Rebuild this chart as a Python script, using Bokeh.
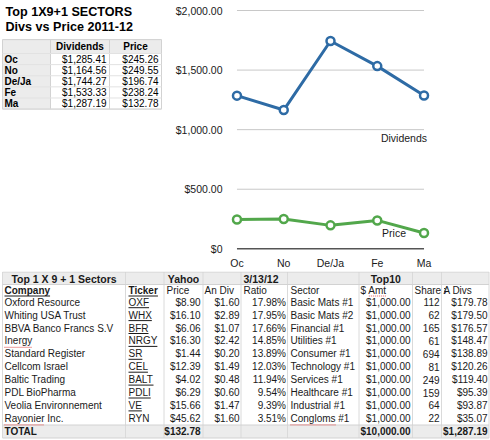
from bokeh.plotting import figure
from bokeh.layouts import column, row
from bokeh.models import Range1d, FixedTicker
from bokeh.core.properties import value
from bokeh.embed import file_html
from bokeh.resources import INLINE

# ---------------- data ----------------
months = ["Oc", "No", "De/Ja", "Fe", "Ma"]
dividends = [1285.41, 1164.56, 1744.27, 1533.33, 1287.19]
month_prices = [245.26, 249.55, 196.74, 238.24, 132.78]
y_ticks = [0, 500, 1000, 1500, 2000]
y_tick_labels = ["$0", "$500.00", "$1,000.00", "$1,500.00", "$2,000.00"]
series_names = ["Dividends", "Price"]

title_lines = ["Top 1X9+1 SECTORS", "Divs vs Price 2011-12"]

table_title = "Top 1 X 9 + 1 Sectors"
group_headers = ["Yahoo", "3/13/12", "Top10"]
col_headers = ["Company", "Ticker", "Price", "An Div", "Ratio", "Sector", "$ Amt", "Shares", "A Divs"]
companies = ["Oxford Resource", "Whiting USA Trust", "BBVA Banco Francs S.V", "Inergy",
             "Standard Register", "Cellcom Israel", "Baltic Trading", "PDL BioPharma",
             "Veolia Environnement", "Rayonier Inc."]
tickers = ["OXF", "WHX", "BFR", "NRGY", "SR", "CEL", "BALT", "PDLI", "VE", "RYN"]
ticker_linked = [True, True, True, True, True, True, True, True, True, False]
stock_prices = [8.90, 16.10, 6.06, 16.30, 1.44, 12.39, 4.02, 6.29, 15.66, 45.62]
annual_divs = [1.60, 2.89, 1.07, 2.42, 0.20, 1.49, 0.48, 0.60, 1.47, 1.60]
ratios = [17.98, 17.95, 17.66, 14.85, 13.89, 12.03, 11.94, 9.54, 9.39, 3.51]
sectors = ["Basic Mats #1", "Basic Mats #2", "Financial #1", "Utilities #1", "Consumer #1",
           "Technology #1", "Services #1", "Healthcare #1", "Industrial #1", "Congloms #1"]
amounts = [1000.00, 1000.00, 1000.00, 1000.00, 1000.00, 1000.00, 1000.00, 1000.00, 1000.00, 1000.00]
shares = [112, 62, 165, 61, 694, 81, 249, 159, 64, 22]
amount_divs = [179.78, 179.50, 176.57, 148.47, 138.89, 120.26, 119.40, 95.39, 93.87, 35.07]
total_label = "TOTAL"
total_price = 132.78
total_amount = 10000.00
total_divs = 1287.19
misspelled = ["Inergy", "Rayonier", "Congloms", "Amt"]

# ---------------- style ----------------
FONT = "Liberation Sans"
TXT = "#1a1a1a"
BLUE = "#2e6ba5"
GREEN = "#52a74b"
CELL_BG = "#ececec"
BORDER = "#d2d2d2"
TOP_H = 271

REG = dict(zip("ABCDEFGHIJKLMNOPQRSTUVWXYZ",
               [667, 667, 722, 722, 667, 611, 778, 722, 278, 500, 667, 556, 833, 722, 778, 667, 778, 722, 667, 611, 722, 667, 944, 667, 667, 611]))
REG.update(zip("abcdefghijklmnopqrstuvwxyz",
               [556, 556, 500, 556, 556, 278, 556, 556, 222, 222, 500, 222, 833, 556, 556, 556, 556, 333, 500, 278, 556, 500, 722, 500, 500, 500]))
BLD = dict(zip("ABCDEFGHIJKLMNOPQRSTUVWXYZ",
               [722, 722, 722, 722, 667, 611, 778, 722, 278, 556, 722, 611, 833, 722, 778, 667, 778, 722, 667, 611, 722, 667, 944, 667, 667, 611]))
BLD.update(zip("abcdefghijklmnopqrstuvwxyz",
               [556, 611, 556, 611, 556, 333, 611, 611, 278, 278, 556, 278, 889, 611, 611, 611, 611, 389, 556, 333, 611, 556, 778, 556, 556, 500]))
for d in (REG, BLD):
    d.update({" ": 278, ".": 278, ",": 278, "$": 556, "#": 556, "%": 889, "/": 278, "-": 333, "+": 584})
    d.update({c: 556 for c in "0123456789"})


def text_width(s, size, bold=False):
    tab = BLD if bold else REG
    return sum(tab.get(c, 556) for c in s) * size / 1000.0


def money(v):
    return "${:,.2f}".format(v)


def put(fig, xs, ys, labels, size, align="left", bold=False, color=TXT):
    fig.text(x=xs, y=ys, text=labels, text_align=align, text_baseline="middle",
             text_font=value(FONT), text_font_size=f"{size}px",
             text_font_style="bold" if bold else "normal", text_color=color)


def blank(w, h):
    f = figure(width=w, height=h, x_range=Range1d(0, w), y_range=Range1d(h, 0),
               output_backend="svg", toolbar_location=None,
               x_axis_location=None, y_axis_location=None, min_border=0,
               outline_line_color=None, background_fill_color="white",
               border_fill_color="white")
    for g in list(f.xgrid) + list(f.ygrid):
        g.visible = False
    return f


# ---------------- top-left: title + small table ----------------
f1 = blank(165, TOP_H)
put(f1, [5, 5], [9.5, 25.5], title_lines, 12.6, bold=True, color="#000000")
sx = [2, 50, 109, 161]
head_top, head_bot, rh = 39, 54, 12
n = len(months)
f1.quad(left=[sx[0]], right=[sx[3]], top=[head_top], bottom=[head_bot], fill_color=CELL_BG, line_color=None)
f1.quad(left=[sx[0]], right=[sx[1]], top=[head_bot], bottom=[head_bot + rh * n], fill_color=CELL_BG, line_color=None)
f1.segment(x0=sx, y0=[head_top] * 4, x1=sx, y1=[head_bot + rh * n] * 4, line_color=BORDER, line_width=1)
hy = [head_top, head_bot] + [head_bot + rh * (i + 1) for i in range(n)]
f1.segment(x0=[sx[0]] * len(hy), y0=hy, x1=[sx[3]] * len(hy), y1=hy, line_color="#e2e2e2", line_width=1)
f1.segment(x0=[sx[0], sx[0]], y0=[head_top, head_bot + rh * n], x1=[sx[3], sx[3]], y1=[head_top, head_bot + rh * n], line_color=BORDER, line_width=1)
put(f1, [(sx[1] + sx[2]) / 2, (sx[2] + sx[3]) / 2], [(head_top + head_bot) / 2] * 2, series_names, 10, align="center", bold=True, color="#000000")
ry = [head_bot + rh * i + rh / 2 for i in range(n)]
put(f1, [4] * n, ry, months, 10, bold=True, color="#000000")
put(f1, [sx[2] - 3] * n, ry, [money(v) for v in dividends], 10, align="right", color="#000000")
put(f1, [sx[3] - 3] * n, ry, [money(v) for v in month_prices], 10, align="right", color="#000000")

# ---------------- top-right: line chart ----------------
xi = list(range(len(months)))
f2 = figure(width=325, height=TOP_H, x_range=Range1d(-0.16, 4.16), y_range=Range1d(-47.8, 2058.8),
            output_backend="svg", toolbar_location=None,
            min_border_left=64, min_border_right=59, min_border_top=3, min_border_bottom=17,
            outline_line_color=None, background_fill_color="white", border_fill_color="white")
f2.xgrid.visible = False
f2.ygrid.visible = False
for ax in (f2.xaxis[0], f2.yaxis[0]):
    ax.axis_line_color = None
    ax.major_tick_line_color = None
    ax.minor_tick_line_color = None
    ax.major_tick_out = 0
    ax.major_tick_in = 0
    ax.major_label_text_font = FONT
    ax.major_label_text_font_size = "10.5px"
    ax.major_label_text_color = TXT
f2.xaxis[0].ticker = FixedTicker(ticks=xi)
f2.xaxis[0].major_label_overrides = {i: m for i, m in zip(xi, months)}
f2.xaxis[0].major_label_standoff = 2
f2.yaxis[0].ticker = FixedTicker(ticks=y_ticks)
f2.yaxis[0].major_label_overrides = {t: l for t, l in zip(y_ticks, y_tick_labels)}
f2.yaxis[0].major_label_standoff = 7

grid_t = [t for t in y_ticks if t != 0]
f2.segment(x0=[xi[0]] * len(grid_t), y0=grid_t, x1=[xi[-1]] * len(grid_t), y1=grid_t,
           line_color="#c8c8c8", line_width=1)
f2.segment(x0=[xi[0]], y0=[y_ticks[0]], x1=[xi[-1]], y1=[y_ticks[0]], line_color="#555555", line_width=1.5)

f2.line(xi, dividends, line_color=BLUE, line_width=3)
f2.scatter(xi, dividends, size=8, fill_color="white", line_color=BLUE, line_width=2.5)
f2.line(xi, month_prices, line_color=GREEN, line_width=3)
f2.scatter(xi, month_prices, size=8, fill_color="white", line_color=GREEN, line_width=2.5)

f2.text(x=[xi[-1]], y=[y_ticks[2]], text=[series_names[0]], text_align="right", text_baseline="middle",
        x_offset=3, y_offset=8, text_font=value(FONT), text_font_size="10.5px", text_color=TXT)
f2.text(x=[xi[-1]], y=[month_prices[-1]], text=[series_names[1]], text_align="right", text_baseline="middle",
        x_offset=-18, y_offset=0, text_font=value(FONT), text_font_size="10.5px", text_color=TXT)

# ---------------- bottom: stock table ----------------
f3 = blank(490, 440 - TOP_H)
cx = [2, 125, 163.5, 202.5, 240.5, 287, 358.5, 412, 441, 488.5]
top, h0_bot = 0.5, 13
h0_y, h1_y = 7, 19
row0, step = 30.7, 12.9
m = len(companies)
rows_y = [row0 + step * i for i in range(m)]
tot_top, tot_bot = 153.5, 166.5
tot_y = (tot_top + tot_bot) / 2

f3.quad(left=[cx[0]], right=[cx[-1]], top=[top], bottom=[h0_bot], fill_color=CELL_BG, line_color=None)
f3.quad(left=[cx[0]], right=[cx[-1]], top=[tot_top], bottom=[tot_bot], fill_color=CELL_BG, line_color=None)

# column headers (Shares is cut by the next cell)
hx = [4, 128, 166, 204, 243, 290, 360, 414]
put(f3, hx[:2], [h1_y] * 2, col_headers[:2], 10, bold=True)
put(f3, hx[2:], [h1_y] * 6, col_headers[2:8], 10)
f3.quad(left=[cx[8] + 0.5], right=[cx[8] + 2.5], top=[h0_bot + 1], bottom=[tot_top - 1], fill_color="white", line_color=None)
put(f3, [443], [h1_y], [col_headers[8]], 10)

# grid lines
f3.segment(x0=cx, y0=[top] * len(cx), x1=cx, y1=[tot_bot] * len(cx), line_color="#dadada", line_width=1)
hl = [top, h0_bot, tot_top, tot_bot]
f3.segment(x0=[cx[0]] * 4, y0=hl, x1=[cx[-1]] * 4, y1=hl, line_color=BORDER, line_width=1)

# group header row
put(f3, [(cx[0] + cx[1]) / 2, 183, (cx[6] + cx[7]) / 2], [h0_y] * 3,
    [table_title, group_headers[0], group_headers[2]], 10.5, align="center", bold=True)
put(f3, [243], [h0_y], [group_headers[1]], 10.5, bold=True)

# data rows
put(f3, [4] * m, rows_y, companies, 10)
put(f3, [128] * m, rows_y, tickers, 10)
put(f3, [200] * m, rows_y, [money(v) for v in stock_prices], 10, align="right")
put(f3, [239] * m, rows_y, [money(v) for v in annual_divs], 10, align="right")
put(f3, [285.5] * m, rows_y, ["{:.2f}%".format(v) for v in ratios], 10, align="right")
put(f3, [290] * m, rows_y, sectors, 10)
put(f3, [410] * m, rows_y, [money(v) for v in amounts], 10, align="right")
put(f3, [439] * m, rows_y, [str(v) for v in shares], 10, align="right")
put(f3, [487] * m, rows_y, [money(v) for v in amount_divs], 10, align="right")

# total row
put(f3, [4], [tot_y], [total_label], 10, bold=True)
put(f3, [200, 410, 487], [tot_y] * 3, [money(total_price), money(total_amount), money(total_divs)], 10,
    align="right", bold=True)

# underlines (links / headers)
ux0, ux1, uy = [], [], []
for s, x, bold in [(col_headers[0], 4, True), (col_headers[1], 128, True)]:
    ux0.append(x); ux1.append(x + text_width(s, 10, bold)); uy.append(h1_y + 5.5)
for t, linked, y in zip(tickers, ticker_linked, rows_y):
    if linked:
        ux0.append(128); ux1.append(128 + text_width(t, 10)); uy.append(y + 5.5)
f3.segment(x0=ux0, y0=uy, x1=ux1, y1=uy, line_color=TXT, line_width=1)

# spell-check marks
sx0, sx1, sy = [], [], []
for word in misspelled:
    for lst, x0, ys in [(companies, 4, rows_y), (sectors, 290, rows_y)]:
        for s, y in zip(lst, ys):
            if s.startswith(word):
                sx0.append(x0); sx1.append(x0 + text_width(word, 10)); sy.append(y + 6.5)
    if word in col_headers[6]:
        off = text_width(col_headers[6][:col_headers[6].index(word)], 10)
        sx0.append(360 + off); sx1.append(360 + off + text_width(word, 10)); sy.append(h1_y + 5.5)
f3.segment(x0=sx0, y0=sy, x1=sx1, y1=sy, line_color="#e06060", line_width=1.2, line_dash="1 1")

layout = column(row(f1, f2), f3)
open("out.html", "w").write(file_html(layout, INLINE))
